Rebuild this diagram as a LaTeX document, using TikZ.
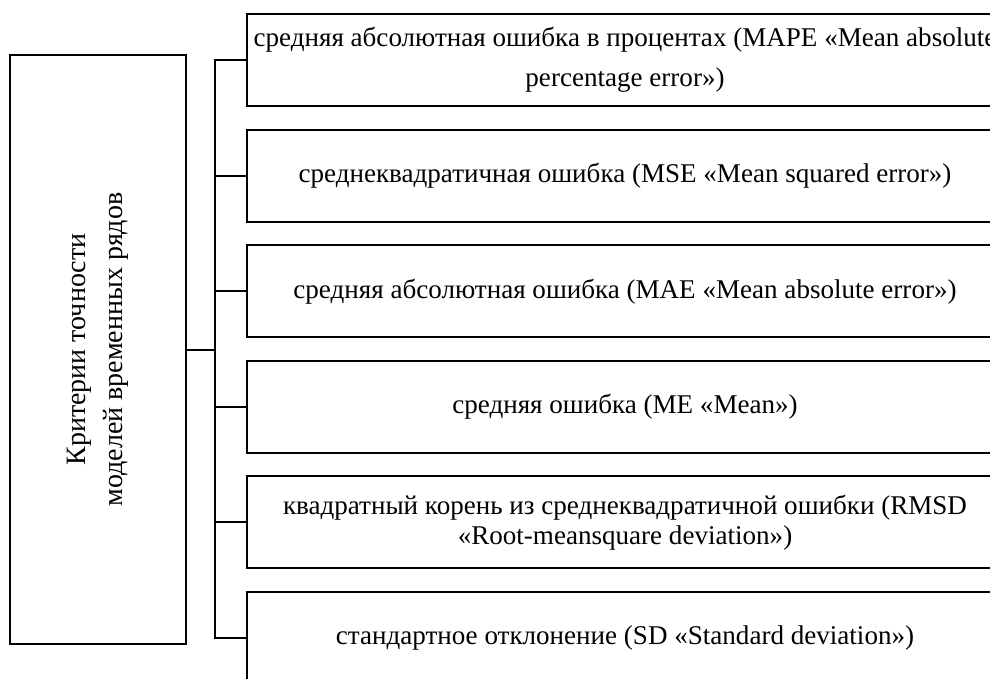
\documentclass[tikz,border=0pt]{standalone}
\usepackage{fontspec}
\setmainfont{Liberation Serif}
\begin{document}
\begin{tikzpicture}[x=0.75pt,y=-0.75pt,
    crit/.style={draw,line width=1.5pt,minimum width=132pt,minimum height=441.75pt,inner sep=0pt},
    measure/.style={draw,line width=1.5pt,minimum width=567pt,minimum height=69pt,inner sep=0pt,
        align=center,font=\fontsize{20.3}{22.5}\selectfont},
    link/.style={line width=1.5pt}]
    \useasboundingbox (0,0) rectangle (990,679);
    \clip (0,0) rectangle (990,679);
    % criteria box
    \node[crit] (crit) at (98,349.5) {};
    \node[rotate=90,align=center,font=\fontsize{21}{27.75}\selectfont] (critname) at (crit.center) {Критерии точности\\моделей временных рядов};
    % measures
    \node[measure,font=\fontsize{20.3}{30}\selectfont] (m1) at (625,60) {средняя абсолютная ошибка в процентах (MAPE «Mean absolute\\percentage error»)};
    \node[measure] (m2) at (625,175.6) {среднеквадратичная ошибка (MSE «Mean squared error»)};
    \node[measure] (m3) at (625,291.2) {средняя абсолютная ошибка (MAE «Mean absolute error»)};
    \node[measure] (m4) at (625,406.8) {средняя ошибка (ME «Mean»)};
    \node[measure] (m5) at (625,522.4) {квадратный корень из среднеквадратичной ошибки (RMSD\\«Root-meansquare deviation»)};
    \node[measure] (m6) at (625,638) {стандартное отклонение (SD «Standard deviation»)};
    % bracket
    \draw[link] (m1.west) -- ++(-31,0) coordinate (bus) |- (m6.west);
    \foreach \i in {2,...,5}
        \draw[link] (m\i.west) -- (m\i.west -| bus);
    \draw[link] (crit.east) -- (crit.east -| bus);
\end{tikzpicture}
\end{document}
